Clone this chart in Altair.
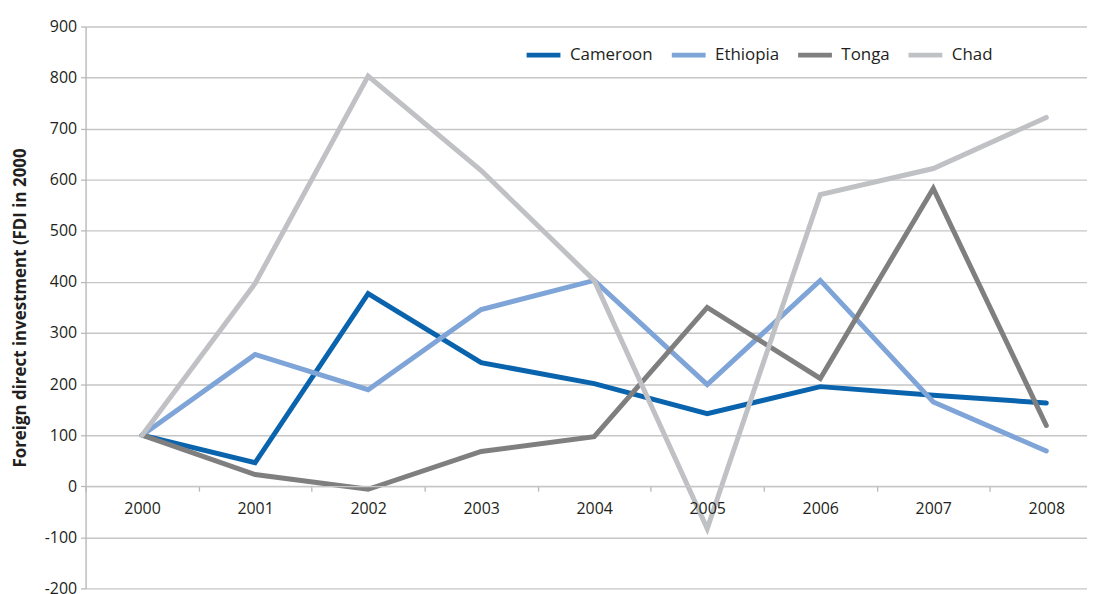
import altair as alt
import pandas as pd

years = [2000, 2001, 2002, 2003, 2004, 2005, 2006, 2007, 2008]
series_names = ["Cameroon", "Ethiopia", "Tonga", "Chad"]
cameroon = [100, 46, 377, 242, 201, 142, 195, 178, 163]
ethiopia = [100, 258, 189, 346, 403, 199, 403, 165, 69]
tonga = [100, 23, -6, 68, 97, 350, 211, 583, 119]
chad = [100, 397, 803, 618, 403, -83, 571, 622, 722]
colors = ["#0a64ad", "#7fa4d7", "#7f7f7f", "#c0c1c4"]

y_ticks = list(range(-200, 1000, 100))
x_boundaries = [y - 0.5 for y in years]

rows = []
for name, vals in zip(series_names, [cameroon, ethiopia, tonga, chad]):
    for yr, v in zip(years, vals):
        rows.append({"year": yr, "value": v, "series": name})
df = pd.DataFrame(rows)

FONT = "Open Sans"
TXT = "#231f20"
GRID = "#c6c6c6"

x_enc = alt.X(
    "year:Q",
    scale=alt.Scale(domain=[1999.5, 2008.36], nice=False, zero=False),
    axis=alt.Axis(
        values=x_boundaries,
        labelExpr="'' + (datum.value + 0.5)",
        labelOffset=56.8,
        labelFont=FONT,
        labelFontSize=16,
        labelColor=TXT,
        labelPadding=9,
        labelFlush=False,
        labelOverlap=False,
        tickSize=5,
        tickColor="#b8b8b8",
        tickWidth=1.3,
        domainColor=GRID,
        domainWidth=1.4,
        grid=False,
        offset=-102.8,
        zindex=1,
        title=None,
    ),
)

y_enc = alt.Y(
    "value:Q",
    scale=alt.Scale(domain=[-200, 900], nice=False, zero=False),
    axis=alt.Axis(
        values=y_ticks,
        labelExpr="'' + datum.value",
        title="Foreign direct investment (FDI in 2000",
        titleFont=FONT,
        titleFontWeight="bold",
        titleFontSize=17,
        titleColor=TXT,
        titleX=-56,
        labelFont=FONT,
        labelFontSize=16,
        labelColor=TXT,
        labelPadding=4,
        tickSize=5,
        tickColor="#b8b8b8",
        tickWidth=1.3,
        domainColor="#b8b8b8",
        domainWidth=1.4,
        gridColor=GRID,
        gridWidth=1.4,
    ),
)

chart = (
    alt.Chart(df)
    .mark_line(strokeWidth=5, strokeCap="round")
    .encode(
        x=x_enc,
        y=y_enc,
        color=alt.Color(
            "series:N",
            scale=alt.Scale(domain=series_names, range=colors),
            sort=series_names,
            legend=alt.Legend(
                orient="none",
                legendX=441,
                legendY=9,
                direction="horizontal",
                title=None,
                symbolType="stroke",
                symbolSize=1156,
                symbolStrokeWidth=5,
                labelFont=FONT,
                labelFontSize=17,
                labelColor=TXT,
                labelOffset=7,
                columnPadding=8,
            ),
        ),
        order=alt.Order("year:Q"),
    )
    .properties(
        width=1007,
        height=565,
        autosize=alt.AutoSizeParams(type="none"),
        padding={"left": 78, "top": 17, "right": 0, "bottom": 4},
        background="white",
    )
    .configure_view(stroke=None)
)

chart.save("out.html", embed_options={"renderer": "svg", "actions": False})
